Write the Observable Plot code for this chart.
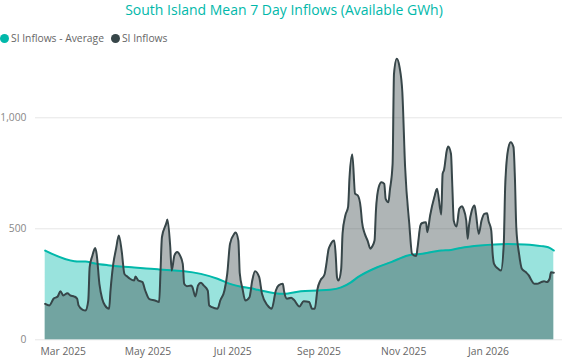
<!DOCTYPE html>
<html>
<head>
<meta charset="utf-8">
<script src="https://cdn.jsdelivr.net/npm/d3@7"></script>
<script src="https://cdn.jsdelivr.net/npm/@observablehq/plot@0.6"></script>
<style>
  html, body { margin: 0; padding: 0; background: #fff; }
  body { width: 568px; height: 359px; overflow: hidden; font-family: "Segoe UI", "Open Sans", sans-serif; }
  #title { height: 28px; line-height: 19px; text-align: center; color: #01B8AA; font-size: 14px; white-space: nowrap; }
  #legend { height: 20px; line-height: 20px; font-size: 10.3px; color: #666; display: flex; align-items: center; white-space: nowrap; }
  .item { display: inline-flex; align-items: center; margin-right: 7px; }
  .dot { display: inline-block; width: 9px; height: 9px; border-radius: 50%; margin-right: 2px; }
  #chart svg { display: block; }
</style>
</head>
<body>
<div id="title"></div>
<div id="legend"></div>
<div id="chart"></div>
<script>
const titleText = "South Island Mean 7 Day Inflows (Available GWh)";
const seriesNames = ["SI Inflows - Average", "SI Inflows"];
const seriesColors = ["#01B8AA", "#374649"];

const avgDates = ["2025-02-16","2025-03-09","2025-03-11","2025-03-17","2025-03-23","2025-04-02","2025-04-11","2025-04-21","2025-05-03","2025-05-09","2025-05-20","2025-05-27","2025-06-08","2025-06-20","2025-06-29","2025-07-07","2025-07-14","2025-07-19","2025-07-31","2025-08-07","2025-08-19","2025-08-31","2025-09-09","2025-09-17","2025-09-24","2025-09-29","2025-10-13","2025-10-23","2025-11-04","2025-11-13","2025-11-28","2025-12-05","2025-12-12","2025-12-26","2026-01-15","2026-01-27","2026-02-08","2026-02-13","2026-02-17"];
const avgValues = [402,354,353,353,345,336,330,326,320,317,312,309,297,275,252,239,232,225,210,207,219,222,225,236,259,282,327,350,380,387,402,405,414,425,432,429,422,417,402];

const inflowDates = ["2025-02-16","2025-02-19","2025-02-22","2025-02-25","2025-02-27","2025-03-01","2025-03-04","2025-03-06","2025-03-09","2025-03-11","2025-03-12","2025-03-15","2025-03-17","2025-03-19","2025-03-20","2025-03-22","2025-03-24","2025-03-25","2025-03-27","2025-03-29","2025-03-31","2025-04-03","2025-04-04","2025-04-06","2025-04-08","2025-04-10","2025-04-12","2025-04-14","2025-04-16","2025-04-18","2025-04-21","2025-04-22","2025-04-24","2025-04-27","2025-04-29","2025-05-02","2025-05-06","2025-05-09","2025-05-10","2025-05-11","2025-05-14","2025-05-15","2025-05-17","2025-05-18","2025-05-20","2025-05-22","2025-05-24","2025-05-26","2025-05-27","2025-05-29","2025-06-01","2025-06-02","2025-06-04","2025-06-06","2025-06-08","2025-06-10","2025-06-13","2025-06-14","2025-06-16","2025-06-20","2025-06-22","2025-06-25","2025-06-27","2025-06-29","2025-07-02","2025-07-03","2025-07-05","2025-07-06","2025-07-08","2025-07-10","2025-07-13","2025-07-15","2025-07-17","2025-07-20","2025-07-22","2025-07-26","2025-07-29","2025-08-01","2025-08-03","2025-08-06","2025-08-07","2025-08-09","2025-08-12","2025-08-14","2025-08-18","2025-08-21","2025-08-25","2025-08-27","2025-08-29","2025-08-31","2025-09-02","2025-09-05","2025-09-06","2025-09-08","2025-09-09","2025-09-12","2025-09-13","2025-09-14","2025-09-15","2025-09-17","2025-09-18","2025-09-20","2025-09-22","2025-09-23","2025-09-25","2025-09-27","2025-09-29","2025-10-01","2025-10-02","2025-10-04","2025-10-06","2025-10-08","2025-10-09","2025-10-11","2025-10-12","2025-10-14","2025-10-16","2025-10-18","2025-10-19","2025-10-21","2025-10-22","2025-10-24","2025-10-25","2025-10-27","2025-10-29","2025-10-31","2025-11-02","2025-11-05","2025-11-07","2025-11-10","2025-11-11","2025-11-13","2025-11-14","2025-11-17","2025-11-18","2025-11-20","2025-11-23","2025-11-25","2025-11-28","2025-11-29","2025-11-30","2025-12-02","2025-12-03","2025-12-05","2025-12-06","2025-12-07","2025-12-09","2025-12-11","2025-12-13","2025-12-14","2025-12-16","2025-12-17","2025-12-18","2025-12-20","2025-12-22","2025-12-23","2025-12-25","2025-12-27","2025-12-29","2025-12-31","2026-01-01","2026-01-03","2026-01-04","2026-01-05","2026-01-08","2026-01-10","2026-01-12","2026-01-13","2026-01-15","2026-01-17","2026-01-19","2026-01-20","2026-01-21","2026-01-23","2026-01-25","2026-01-28","2026-01-30","2026-02-01","2026-02-03","2026-02-05","2026-02-08","2026-02-10","2026-02-12","2026-02-14","2026-02-15","2026-02-17"];
const inflowValues = [162,155,185,195,219,200,210,200,195,185,155,135,132,177,327,380,413,387,252,185,155,140,222,342,410,470,402,297,285,275,267,285,267,260,222,183,177,170,312,462,522,542,417,312,380,395,380,342,252,241,245,237,195,245,257,245,222,155,147,140,177,222,297,432,477,483,447,300,230,177,192,267,309,282,207,155,140,222,245,252,215,185,189,180,150,174,170,140,140,230,267,294,327,410,425,447,387,282,267,320,480,560,600,732,835,658,650,597,530,477,447,410,417,447,582,687,710,702,635,620,672,793,1198,1266,1228,1115,777,522,387,377,417,515,525,530,485,560,642,680,564,748,765,853,871,838,687,537,510,590,602,590,537,455,515,582,605,567,477,537,567,570,537,492,387,342,320,312,432,687,853,890,868,732,507,387,320,304,290,267,252,252,260,264,260,275,304,302];

const xTicks = ["2025-03-01","2025-05-01","2025-07-01","2025-09-01","2025-11-01","2026-01-01"];
const yTicks = [0, 500, 1000];

document.getElementById("title").textContent = titleText;
const legend = document.getElementById("legend");
seriesNames.forEach((name, i) => {
  const item = document.createElement("span");
  item.className = "item";
  const dot = document.createElement("span");
  dot.className = "dot";
  dot.style.background = seriesColors[i];
  item.appendChild(dot);
  item.appendChild(document.createTextNode(name));
  legend.appendChild(item);
});

const avg = avgDates.map((d, i) => ({date: new Date(d), value: avgValues[i]}));
const inflow = inflowDates.map((d, i) => ({date: new Date(d), value: inflowValues[i]}));

const chart = Plot.plot({
  width: 568,
  height: 311,
  marginLeft: 35,
  marginRight: 6,
  marginTop: 2.7,
  marginBottom: 19.7,
  style: {fontFamily: "'Segoe UI', 'Open Sans', sans-serif", fontSize: "10.3px", background: "#fff"},
  x: {type: "utc", domain: [new Date("2025-02-16"), new Date("2026-02-17")], range: [44.7, 553.3]},
  y: {domain: [0, 1300]},
  marks: [
    Plot.gridY(yTicks, {stroke: "#e6e6e6", strokeOpacity: 1}),
    Plot.areaY(avg, {x: "date", y: "value", fill: seriesColors[0], fillOpacity: 0.4, curve: "monotone-x"}),
    Plot.areaY(inflow, {x: "date", y: "value", fill: seriesColors[1], fillOpacity: 0.4, curve: "monotone-x"}),
    Plot.lineY(avg, {x: "date", y: "value", stroke: seriesColors[0], strokeWidth: 2, curve: "monotone-x"}),
    Plot.lineY(inflow, {x: "date", y: "value", stroke: seriesColors[1], strokeWidth: 2, curve: "monotone-x"}),
    Plot.axisX(xTicks.map(d => new Date(d)), {tickSize: 0, tickPadding: 8, tickFormat: d3.utcFormat("%b %Y"), fill: "#666", label: null}),
    Plot.axisY(yTicks, {tickSize: 0, tickPadding: 9, tickFormat: d3.format(","), fill: "#888", label: null})
  ]
});
document.getElementById("chart").appendChild(chart);
</script>
</body>
</html>
